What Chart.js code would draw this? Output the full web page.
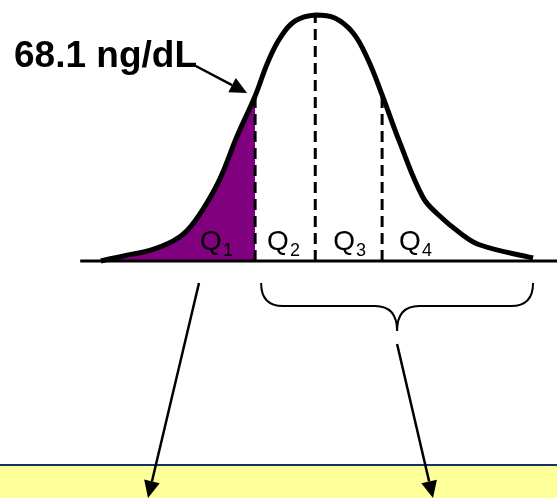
<!DOCTYPE html>
<html>
<head>
<meta charset="utf-8">
<script src="https://cdn.jsdelivr.net/npm/chart.js@4.4.0/dist/chart.umd.min.js"></script>
<style>
  body { margin: 0; background: #fff; }
  canvas { display: block; }
</style>
</head>
<body>
<canvas id="curva" width="557" height="498"></canvas>
<script>
// distribution curve (x in % of width, y in % of peak height)
const curveX = [18.1, 22.8, 26.9, 31.1, 33.6, 36.4, 39.5, 42.5, 45.8, 48.1, 50.3, 53.0, 56.7, 60.1, 63.4, 66.1, 68.6, 71.8, 75.9, 78.5, 82.6, 86.2, 95.7];
const curveY = [0, 2.4, 4.3, 8.1, 12.4, 20.9, 33.5, 50.4, 67.1, 80.9, 90.7, 97.6, 100, 98.8, 92.7, 81.7, 67.5, 48, 26, 19.2, 11.4, 6.5, 1.2];

// quartile cut points and where they meet the curve
const quartileCuts = [45.8, 56.6, 68.6];
const quartileTops = [67.1, 100, 67.5];
const quartileNames = ['1', '2', '3', '4'];
const cutoffLabel = '68.1 ng/dL';
const axisStart = 14.4;

const curvePts = curveX.map((x, i) => ({ x: x, y: curveY[i] }));
const q1Pts = curvePts.filter(p => p.x <= quartileCuts[0]);

const FONT = "'Liberation Sans', Arial, sans-serif";

const dashSets = quartileCuts.map((c, i) => ({
  data: [{ x: c, y: 0 }, { x: c, y: quartileTops[i] }],
  borderColor: '#000',
  borderWidth: 3,
  borderDash: [11, 6],
  pointRadius: 0,
  order: 1,
  clip: false,
}));

function arrow(ctx, x1, y1, x2, y2, len, half) {
  const a = Math.atan2(y2 - y1, x2 - x1);
  const bx = x2 - len * Math.cos(a), by = y2 - len * Math.sin(a);
  ctx.beginPath();
  ctx.moveTo(x1, y1);
  ctx.lineTo(bx, by);
  ctx.stroke();
  ctx.beginPath();
  ctx.moveTo(x2, y2);
  ctx.lineTo(bx + half * Math.sin(a), by - half * Math.cos(a));
  ctx.lineTo(bx - half * Math.sin(a), by + half * Math.cos(a));
  ctx.closePath();
  ctx.fill();
}

const extras = {
  id: 'extras',
  afterDraw(chart) {
    const ctx = chart.ctx;
    const xs = chart.scales.x;
    const px = v => xs.getPixelForValue(v);
    ctx.save();

    // quartile labels with subscripts
    const edges = [px(curveX[0]), ...quartileCuts.map(px), px(curveX[curveX.length - 1])];
    const qLeft = [edges[1] - 55, edges[1] + 12, edges[2] + 18, edges[3] + 17];
    ctx.fillStyle = '#000';
    ctx.textBaseline = 'alphabetic';
    quartileNames.forEach((n, i) => {
      ctx.font = '28px ' + FONT;
      ctx.fillText('Q', qLeft[i], 250);
      const w = ctx.measureText('Q').width;
      ctx.font = '18px ' + FONT;
      ctx.fillText(n, qLeft[i] + w + 1, 256);
    });

    // cutoff label and pointer
    ctx.font = 'bold 37px ' + FONT;
    ctx.fillText(cutoffLabel, 14, 67);
    ctx.strokeStyle = '#000';
    ctx.lineWidth = 2.5;
    arrow(ctx, 192, 64, px(quartileCuts[0]) - 8, 93, 17, 8);

    // brace under Q2-Q4
    const bl = edges[1] + 6, br = edges[4], bm = (bl + br) / 2;
    ctx.lineWidth = 2;
    ctx.beginPath();
    ctx.moveTo(bl, 283);
    ctx.quadraticCurveTo(bl, 306, bl + 22, 306);
    ctx.lineTo(bm - 22, 306);
    ctx.quadraticCurveTo(bm, 306, bm, 331);
    ctx.quadraticCurveTo(bm, 306, bm + 22, 306);
    ctx.lineTo(br - 22, 306);
    ctx.quadraticCurveTo(br, 306, br, 283);
    ctx.stroke();

    // result box
    ctx.fillStyle = '#ffff99';
    ctx.fillRect(0, 465, chart.width, chart.height - 465);
    ctx.fillStyle = '#14316b';
    ctx.fillRect(0, 464, chart.width, 2);

    ctx.fillStyle = '#000';
    ctx.lineWidth = 2.5;
    arrow(ctx, 199, 283, 148, 498, 17, 8);
    arrow(ctx, bm, 344, 433, 498, 17, 8);
    ctx.restore();
  }
};

new Chart(document.getElementById('curva'), {
  type: 'line',
  data: {
    datasets: [
      {
        data: curvePts,
        borderColor: '#000',
        borderWidth: 5,
        tension: 0.4,
        pointRadius: 0,
        order: 0,
        clip: false,
      },
      ...dashSets,
      {
        data: [{ x: axisStart, y: 0 }, { x: 100, y: 0 }],
        borderColor: '#000',
        borderWidth: 3,
        pointRadius: 0,
        order: 1,
        clip: false,
      },
      {
        data: q1Pts,
        borderColor: 'rgba(0,0,0,0)',
        borderWidth: 0,
        backgroundColor: '#800080',
        fill: 'origin',
        tension: 0.4,
        pointRadius: 0,
        order: 3,
      },
    ],
  },
  options: {
    responsive: false,
    animation: false,
    layout: { padding: { left: 0, right: 0, top: 15, bottom: 237 } },
    scales: {
      x: { type: 'linear', min: 0, max: 100, display: false },
      y: { min: 0, max: 100, display: false },
    },
    plugins: {
      legend: { display: false },
      tooltip: { enabled: false },
    },
  },
  plugins: [extras],
});
</script>
</body>
</html>
